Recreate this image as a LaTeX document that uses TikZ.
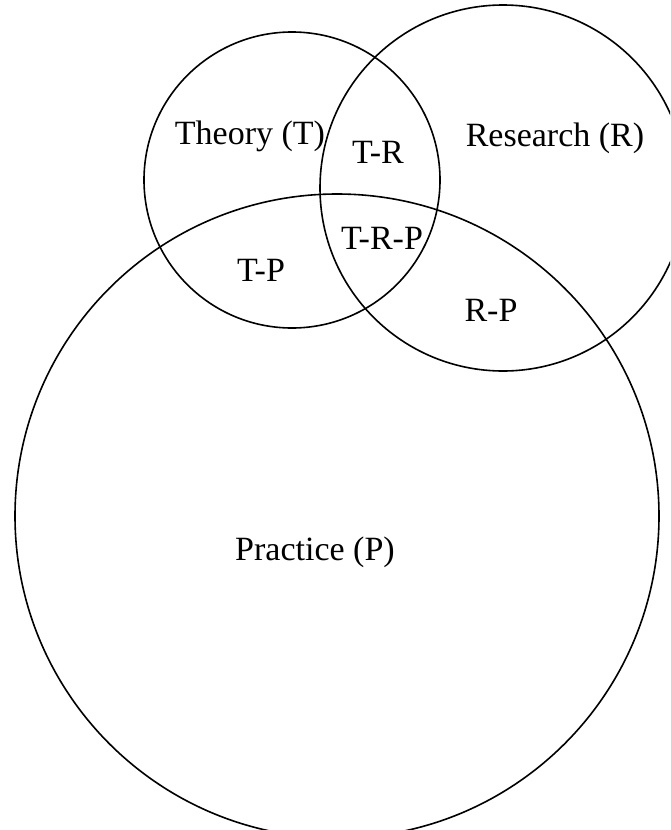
\documentclass[tikz,border=0pt]{standalone}
\usepackage{fontspec}
\setmainfont{Liberation Serif}

\begin{document}
\begin{tikzpicture}[
    x=1pt, y=-1pt,
    ring/.style={draw, circle, line width=1.6pt, inner sep=0pt, minimum size=#1},
    lbl/.style={font=\fontsize{34}{40}\selectfont, inner sep=0pt}
]
\useasboundingbox (0,0) rectangle (670,830);
\clip (0,0) rectangle (670,830);
% the three sets
\node[ring=296pt] (theory) at (292,180) {};
\node[ring=366pt] (research) at (503,188) {};
\node[ring=644pt] (practice) at (337,516) {};
% labels
\node[lbl] (theorylbl) at (250,136) {Theory (T)};
\node[lbl] (researchlbl) at (555,138) {Research (R)};
\node[lbl] (practicelbl) at (315,552) {Practice (P)};
\node[lbl] (tr) at (378,152) {T-R};
\node[lbl] (trp) at (382,238) {T-R-P};
\node[lbl] (tp) at (261,270) {T-P};
\node[lbl] (rp) at (491,310) {R-P};
\end{tikzpicture}
\end{document}
